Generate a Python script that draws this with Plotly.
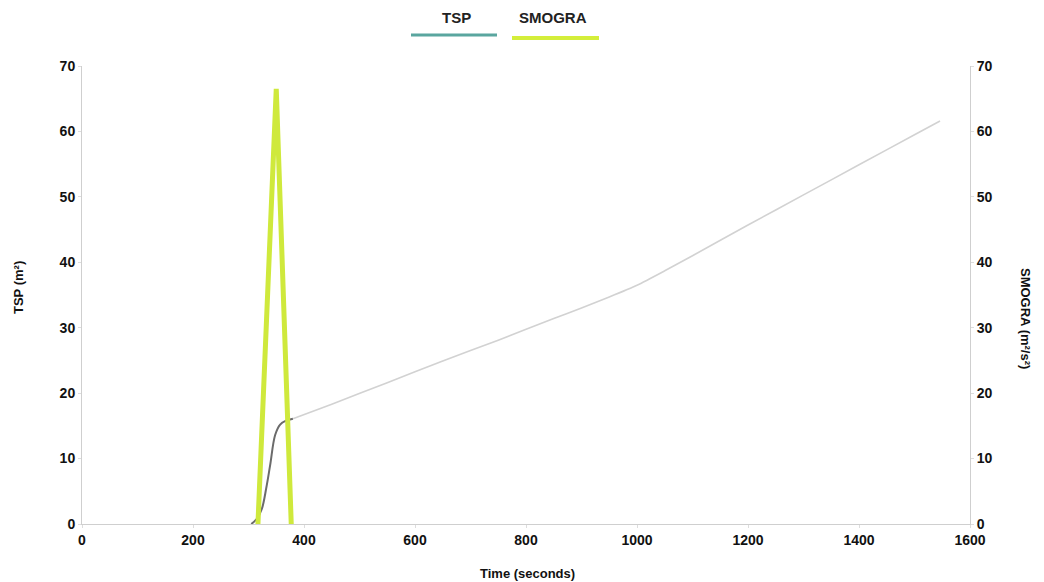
import plotly.graph_objects as go

# ---- data ----
tsp_time = [305, 315, 324, 332, 339, 348, 357, 368, 380, 450, 550, 650, 750, 850, 900,
            950, 1000, 1050, 1100, 1200, 1300, 1400, 1500, 1546]
tsp_value = [0.0, 0.8, 2.3, 5.5, 9.0, 13.6, 15.2, 15.8, 16.1, 18.3, 21.6, 24.9, 28.1,
             31.4, 33.0, 34.7, 36.5, 38.7, 41.0, 45.7, 50.3, 54.9, 59.5, 61.6]
smogra_time = [317, 350, 377]
smogra_value = [0, 66.5, 0]

x_ticks = [0, 200, 400, 600, 800, 1000, 1200, 1400, 1600]
y_ticks = [0, 10, 20, 30, 40, 50, 60, 70]

DARK_PART = 9  # first points of TSP appear darker in the scan

FONT = "Liberation Sans"
L, R, T, B = 82, 74, 66, 58
W, H = 1044, 582
pw, ph = W - L - R, H - T - B


def px(xp):
    return (xp - L) / pw


def py(yp):
    return (H - B - yp) / ph


fig = go.Figure()

fig.add_trace(go.Scatter(
    x=tsp_time[DARK_PART - 1:], y=tsp_value[DARK_PART - 1:], mode="lines",
    line=dict(color="#d2d2d2", width=1.6, shape="spline", smoothing=0.6),
    showlegend=False, name="TSP"))
fig.add_trace(go.Scatter(
    x=tsp_time[:DARK_PART], y=tsp_value[:DARK_PART], mode="lines",
    line=dict(color="#6b6b6b", width=2, shape="spline"), showlegend=False, name="TSP"))
fig.add_trace(go.Scatter(
    x=smogra_time, y=smogra_value, mode="lines", yaxis="y2",
    line=dict(color="#cfe93c", width=5), showlegend=False, name="SMOGRA"))

tickfont = dict(family=FONT, size=14, color="#111111")
axis_common = dict(showgrid=False, zeroline=False, showline=True, linecolor="#cfcfcf",
                   linewidth=1, ticks="outside", ticklen=3, tickcolor="#dddddd",
                   tickfont=tickfont)


def bold(vals):
    return ["<b>%d</b>" % v for v in vals]


fig.update_layout(
    width=W, height=H,
    margin=dict(l=L, r=R, t=T, b=B),
    paper_bgcolor="white", plot_bgcolor="white",
    xaxis=dict(range=[0, 1600], tickvals=x_ticks, ticktext=bold(x_ticks), **axis_common),
    yaxis=dict(range=[0, 70], tickvals=y_ticks, ticktext=bold(y_ticks), **axis_common),
    yaxis2=dict(range=[0, 70], tickvals=y_ticks, ticktext=bold(y_ticks),
                overlaying="y", side="right", **axis_common),
    showlegend=False,
)


def note(text, x, y, size=13, angle=0, color="#111111"):
    fig.add_annotation(text=text, xref="paper", yref="paper", x=px(x), y=py(y),
                       xanchor="center", yanchor="middle", textangle=angle,
                       showarrow=False, font=dict(family=FONT, size=size, color=color))


# axis titles
note("<b>TSP (m²)</b>", 18, 288, angle=-90)
note("<b>SMOGRA (m²/s²)</b>", 1026, 318, angle=90)
note("<b>Time (seconds)</b>", 527, 573)

# custom legend: text above a coloured bar
note("<b>TSP</b>", 456, 18, size=15, color="#222222")
note("<b>SMOGRA</b>", 553, 18, size=15, color="#222222")
fig.add_shape(type="line", xref="paper", yref="paper", x0=px(411), x1=px(497),
              y0=py(35), y1=py(35), line=dict(color="#5aa69f", width=3))
fig.add_shape(type="line", xref="paper", yref="paper", x0=px(512), x1=px(599),
              y0=py(38), y1=py(38), line=dict(color="#d4ee3a", width=4))

fig.write_html("out.html")
